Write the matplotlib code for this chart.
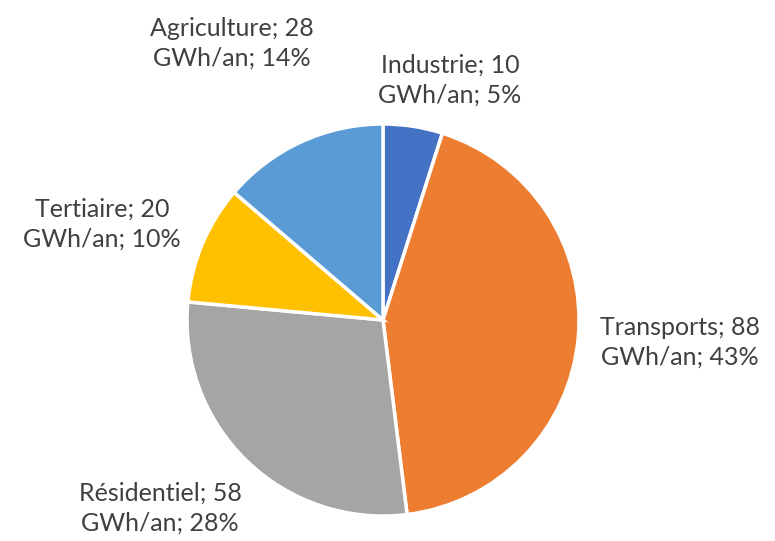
import matplotlib
matplotlib.use("Agg")
import matplotlib.pyplot as plt

sectors = ["Industrie", "Transports", "Résidentiel", "Tertiaire", "Agriculture"]
values = [10, 88, 58, 20, 28]
colors = ["#4472C4", "#ED7D31", "#A5A5A5", "#FFC000", "#5B9BD5"]
# label centres in pixels (x from left, y from top)
label_pos = [(450, 80), (680, 342), (160, 508), (102, 224), (232, 43)]

W, H = 775, 541
fig = plt.figure(figsize=(W / 100, H / 100), dpi=100)
ax = fig.add_axes([0, 0, 1, 1])
ax.set_xlim(0, W)
ax.set_ylim(0, H)
ax.set_aspect("equal")
ax.axis("off")

ax.pie(values, colors=colors, startangle=90, counterclock=False,
       center=(383, H - 320), radius=196,
       wedgeprops=dict(edgecolor="white", linewidth=2.5))
ax.set_xlim(0, W)
ax.set_ylim(0, H)

total = sum(values)
for name, v, (x, y) in zip(sectors, values, label_pos):
    pct = round(100 * v / total)
    ax.text(x, H - y, f"{name}; {v}\nGWh/an; {pct}%", ha="center", va="center",
            fontsize=18, family="Lato", color="#404040", linespacing=1.36)

fig.savefig("out.png", dpi=100)
